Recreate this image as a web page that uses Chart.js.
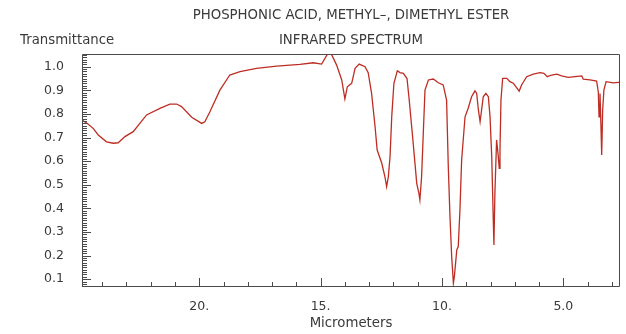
<!DOCTYPE html>
<html>
<head>
<meta charset="utf-8">
<script src="https://cdn.jsdelivr.net/npm/chart.js@4.4.1/dist/chart.umd.min.js"></script>
<style>
  html, body { margin: 0; padding: 0; background: #fff; }
  #wrap { width: 626px; height: 334px; }
</style>
</head>
<body>
<div id="wrap"><canvas id="ir"></canvas></div>
<script>
// Данные спектра (микрометры / пропускание)
const micrometers = [
  24.83, 24.61, 24.37, 24.16, 23.82, 23.54, 23.34, 23.06, 22.72, 22.17,
  21.62, 21.21, 20.93, 20.73, 20.31, 19.90, 19.77, 19.56, 19.15, 18.74,
  18.32, 17.64, 16.81, 15.85, 15.30, 14.96, 14.68, 14.54, 14.34, 14.13,
  14.00, 13.90, 13.72, 13.58, 13.41, 13.17, 13.04, 12.90, 12.76, 12.67,
  12.48, 12.35, 12.28, 12.21, 12.14, 12.07, 11.98, 11.84, 11.73, 11.59,
  11.44, 11.35, 11.21, 11.04, 10.95, 10.91, 10.84, 10.77, 10.70, 10.56,
  10.36, 10.15, 9.95, 9.81, 9.74, 9.67, 9.60, 9.53, 9.49, 9.39,
  9.33, 9.26, 9.19, 9.05, 8.92, 8.78, 8.64, 8.57, 8.50, 8.43,
  8.36, 8.30, 8.19, 8.09, 8.02, 7.95, 7.89, 7.86, 7.82, 7.75,
  7.68, 7.64, 7.61, 7.57, 7.50, 7.33, 7.20, 7.06, 6.95, 6.82,
  6.72, 6.51, 6.24, 5.96, 5.80, 5.66, 5.48, 5.27, 5.07, 4.80,
  4.52, 4.24, 4.18, 3.90, 3.63, 3.56, 3.53, 3.49, 3.45, 3.42,
  3.38, 3.33, 3.24, 2.94, 2.74, 2.67
];
const transmittance = [
  0.774, 0.760, 0.739, 0.711, 0.682, 0.676, 0.678, 0.704, 0.725, 0.796,
  0.824, 0.842, 0.842, 0.831, 0.786, 0.760, 0.767, 0.809, 0.901, 0.965,
  0.979, 0.993, 1.003, 1.010, 1.017, 1.011, 1.060, 1.050, 1.007, 0.944,
  0.864, 0.915, 0.930, 0.993, 1.011, 1.000, 0.975, 0.887, 0.750, 0.647,
  0.591, 0.534, 0.492, 0.534, 0.619, 0.788, 0.930, 0.983, 0.975, 0.972,
  0.950, 0.859, 0.704, 0.506, 0.464, 0.436, 0.534, 0.718, 0.901, 0.944,
  0.948, 0.932, 0.923, 0.859, 0.577, 0.365, 0.196, 0.083, 0.111, 0.224,
  0.238, 0.393, 0.605, 0.788, 0.824, 0.873, 0.898, 0.887, 0.817, 0.767,
  0.824, 0.873, 0.887, 0.873, 0.788, 0.619, 0.365, 0.245, 0.464, 0.690,
  0.619, 0.570, 0.647, 0.859, 0.951, 0.951, 0.937, 0.930, 0.915, 0.897,
  0.923, 0.958, 0.969, 0.975, 0.972, 0.958, 0.965, 0.969, 0.961, 0.955,
  0.958, 0.961, 0.947, 0.944, 0.939, 0.894, 0.788, 0.887, 0.746, 0.626,
  0.817, 0.901, 0.937, 0.932, 0.934, 0.934
];

// Подписи осей
const xTickValues = [20, 15, 10, 5];
const xTickLabels = ['20.', '15.', '10.', '5.0'];
const yTickValues = [0.1, 0.2, 0.3, 0.4, 0.5, 0.6, 0.7, 0.8, 0.9, 1.0];
const yTickLabels = ['0.1', '0.2', '0.3', '0.4', '0.5', '0.6', '0.7', '0.8', '0.9', '1.0'];

const titleText = 'PHOSPHONIC ACID, METHYL–, DIMETHYL ESTER';
const subtitleText = 'INFRARED SPECTRUM';
const yTitle = 'Transmittance';
const xTitle = 'Micrometers';

const FONT = '"DejaVu Sans", sans-serif';
const TEXT_COLOR = '#3a3a3a';
const AXIS_COLOR = '#4a4a4a';

const points = micrometers.map((m, i) => ({ x: m, y: transmittance[i] }));

// Рамка, внутренние засечки и надписи
const framePlugin = {
  id: 'frame',
  afterDraw(chart) {
    const { ctx, chartArea: a, scales } = chart;
    const xs = scales.x, ys = scales.y;
    ctx.save();
    ctx.strokeStyle = AXIS_COLOR;
    ctx.lineWidth = 1;
    ctx.beginPath();
    ctx.rect(a.left + 0.5, a.top + 0.5, a.right - a.left - 1, a.bottom - a.top - 1);
    ctx.stroke();

    // засечки по Y: каждые 0.01, длинные на 0.1
    ctx.beginPath();
    for (let k = 7; k <= 105; k++) {
      const v = k / 100;
      const py = Math.round(ys.getPixelForValue(v)) + 0.5;
      if (py < a.top || py > a.bottom) continue;
      const len = (k % 10 === 0) ? 9 : 5;
      ctx.moveTo(a.left, py);
      ctx.lineTo(a.left + len, py);
    }
    // засечки по X: каждый микрометр, длинные на 5
    for (let m = 3; m <= 24; m++) {
      const px = Math.round(xs.getPixelForValue(m)) + 0.5;
      const len = (m % 5 === 0) ? 9 : 5;
      ctx.moveTo(px, a.bottom);
      ctx.lineTo(px, a.bottom - len);
    }
    ctx.stroke();

    const cx = (a.left + a.right) / 2;
    ctx.fillStyle = TEXT_COLOR;
    ctx.font = '13.3px ' + FONT;
    ctx.textBaseline = 'middle';
    ctx.textAlign = 'center';
    ctx.fillText(titleText, cx, 16);
    ctx.fillText(subtitleText, cx, 41);
    ctx.fillText(xTitle, cx, 324);
    ctx.textAlign = 'left';
    ctx.fillText(yTitle, 20, 41);
    ctx.restore();
  }
};

new Chart(document.getElementById('ir'), {
  type: 'line',
  data: {
    datasets: [{
      data: points,
      borderColor: 'rgb(190, 45, 35)',
      borderWidth: 1.3,
      pointRadius: 0,
      tension: 0,
      fill: false
    }]
  },
  options: {
    responsive: true,
    maintainAspectRatio: false,
    animation: false,
    events: [],
    layout: { padding: { top: 54, right: 6, left: 0, bottom: 0 } },
    plugins: { legend: { display: false }, tooltip: { enabled: false } },
    scales: {
      x: {
        type: 'linear',
        reverse: true,
        min: 2.666,
        max: 24.83,
        afterFit(scale) { scale.height = 47; },
        afterBuildTicks(scale) { scale.ticks = xTickValues.map(v => ({ value: v })); },
        grid: { display: false, drawTicks: false },
        border: { display: false },
        ticks: {
          padding: 12,
          color: TEXT_COLOR,
          font: { family: FONT, size: 12.5 },
          maxRotation: 0,
          callback: (v) => xTickLabels[xTickValues.indexOf(v)] ?? ''
        }
      },
      y: {
        type: 'linear',
        min: 0.067,
        max: 1.054,
        afterFit(scale) { scale.width = 82; },
        afterBuildTicks(scale) { scale.ticks = yTickValues.map(v => ({ value: v })); },
        grid: { display: false, drawTicks: false },
        border: { display: false },
        ticks: {
          padding: 18,
          color: TEXT_COLOR,
          font: { family: FONT, size: 12.5 },
          callback: (v) => {
            const i = yTickValues.findIndex(t => Math.abs(t - v) < 1e-6);
            return i >= 0 ? yTickLabels[i] : '';
          }
        }
      }
    }
  },
  plugins: [framePlugin]
});
</script>
</body>
</html>
